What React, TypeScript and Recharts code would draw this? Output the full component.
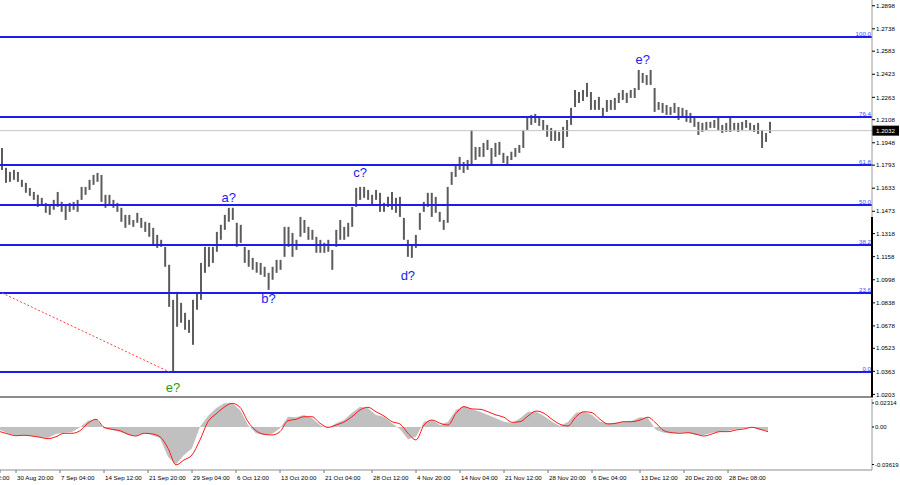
import React from 'react';
import {
  ComposedChart, Bar, Area, Line, XAxis, YAxis, ReferenceLine, ReferenceDot,
} from 'recharts';

// H4 price bars, sampled left to right (high / low)
const highs = [
  1.1912, 1.1774, 1.1746, 1.1760, 1.1746, 1.1691, 1.1670, 1.1635, 1.1607, 1.1587,
  1.1566, 1.1531, 1.1517, 1.1552, 1.1607, 1.1538, 1.1517, 1.1531, 1.1538, 1.1552,
  1.1642, 1.1642, 1.1691, 1.1725, 1.1739, 1.1725, 1.1587, 1.1587, 1.1552, 1.1531,
  1.1497, 1.1448, 1.1448, 1.1413, 1.1462, 1.1427, 1.1400, 1.1393, 1.1358, 1.1309,
  1.1275, 1.1226, 1.1102, 1.0859, 1.0914, 1.0838, 1.0769, 1.0720, 1.0859, 1.0908,
  1.1115, 1.1226, 1.1226, 1.1226, 1.1330, 1.1379, 1.1448, 1.1497, 1.1497, 1.1393,
  1.1379, 1.1226, 1.1205, 1.1150, 1.1122, 1.1115, 1.1088, 1.1046, 1.1088, 1.1136,
  1.1136, 1.1365, 1.1365, 1.1323, 1.1275, 1.1434, 1.1413, 1.1365, 1.1344, 1.1296,
  1.1275, 1.1254, 1.1275, 1.1205, 1.1344, 1.1413, 1.1365, 1.1393, 1.1503, 1.1635,
  1.1642, 1.1642, 1.1621, 1.1587, 1.1621, 1.1601, 1.1531, 1.1573, 1.1607, 1.1566,
  1.1573, 1.1427, 1.1275, 1.1240, 1.1309, 1.1462, 1.1538, 1.1601, 1.1601, 1.1573,
  1.1469, 1.1413, 1.1642, 1.1746, 1.1795, 1.1850, 1.1815, 1.1829, 1.2037, 1.1919,
  1.1919, 1.1947, 1.1968, 1.1912, 1.1947, 1.1954, 1.1878, 1.1857, 1.1885, 1.1912,
  1.1933, 1.2037, 1.2120, 1.2141, 1.2148, 1.2127, 1.2106, 1.2072, 1.2051, 1.2037,
  1.2023, 1.2058, 1.2106, 1.2190, 1.2314, 1.2300, 1.2314, 1.2363, 1.2300, 1.2245,
  1.2266, 1.2190, 1.2245, 1.2245, 1.2259, 1.2294, 1.2314, 1.2294, 1.2314, 1.2328,
  1.2453, 1.2432, 1.2418, 1.2453, 1.2328, 1.2231, 1.2224, 1.2210, 1.2196, 1.2224,
  1.2196, 1.2190, 1.2176, 1.2155, 1.2127, 1.2093, 1.2086, 1.2093, 1.2093, 1.2106,
  1.2120, 1.2072, 1.2086, 1.2120, 1.2086, 1.2086, 1.2093, 1.2106, 1.2086, 1.2072,
  1.2086, 1.2037, 1.2016, 1.2093,
];
const lows = [
  1.1760, 1.1670, 1.1677, 1.1691, 1.1677, 1.1642, 1.1601, 1.1580, 1.1552, 1.1503,
  1.1517, 1.1462, 1.1448, 1.1483, 1.1503, 1.1469, 1.1413, 1.1469, 1.1483, 1.1469,
  1.1552, 1.1587, 1.1621, 1.1656, 1.1677, 1.1538, 1.1497, 1.1517, 1.1497, 1.1469,
  1.1400, 1.1358, 1.1379, 1.1365, 1.1393, 1.1358, 1.1330, 1.1296, 1.1240, 1.1219,
  1.1226, 1.1088, 1.0810, 1.0360, 1.0672, 1.0700, 1.0651, 1.0630, 1.0547, 1.0790,
  1.0859, 1.1046, 1.1088, 1.1115, 1.1192, 1.1275, 1.1344, 1.1400, 1.1413, 1.1226,
  1.1254, 1.1115, 1.1088, 1.1067, 1.1046, 1.1032, 1.1018, 1.0928, 1.0998, 1.1046,
  1.1067, 1.1157, 1.1226, 1.1157, 1.1205, 1.1296, 1.1323, 1.1275, 1.1275, 1.1185,
  1.1185, 1.1185, 1.1192, 1.1067, 1.1226, 1.1275, 1.1275, 1.1296, 1.1365, 1.1503,
  1.1552, 1.1566, 1.1552, 1.1517, 1.1552, 1.1469, 1.1469, 1.1503, 1.1483, 1.1462,
  1.1434, 1.1275, 1.1157, 1.1150, 1.1219, 1.1344, 1.1469, 1.1503, 1.1434, 1.1462,
  1.1400, 1.1344, 1.1393, 1.1656, 1.1711, 1.1760, 1.1739, 1.1760, 1.1795, 1.1829,
  1.1850, 1.1850, 1.1898, 1.1795, 1.1850, 1.1864, 1.1808, 1.1788, 1.1829, 1.1850,
  1.1878, 1.1912, 1.2037, 1.2072, 1.2086, 1.2065, 1.2037, 1.1989, 1.1961, 1.1961,
  1.1961, 1.1912, 1.1989, 1.2072, 1.2196, 1.2224, 1.2238, 1.2266, 1.2176, 1.2176,
  1.2176, 1.2120, 1.2162, 1.2176, 1.2176, 1.2224, 1.2245, 1.2224, 1.2259, 1.2259,
  1.2314, 1.2363, 1.2349, 1.2349, 1.2162, 1.2176, 1.2155, 1.2141, 1.2141, 1.2155,
  1.2106, 1.2127, 1.2093, 1.2086, 1.2058, 1.2002, 1.2023, 1.2037, 1.2051, 1.2051,
  1.2037, 1.2016, 1.2023, 1.2023, 1.2037, 1.2023, 1.2037, 1.2051, 1.2037, 1.2023,
  1.2009, 1.1912, 1.1954, 1.2016,
];

// MACD panel, one value every second bar
const macdHist = [
  -0.0029, -0.0061, -0.0084, -0.0080, -0.0087, -0.0099, -0.0106, -0.0067, -0.0055, -0.0048,
  -0.0003, 0.0061, 0.0074, -0.0013, -0.0029, -0.0045, -0.0077, -0.0087, -0.0055, -0.0077,
  -0.0109, -0.0286, -0.0362, -0.0270, -0.0205, 0.0003, 0.0106, 0.0180, 0.0228, 0.0231,
  0.0164, 0.0019, -0.0061, -0.0077, -0.0067, -0.0013, 0.0099, 0.0094, 0.0116, 0.0084,
  0.0019, -0.0013, 0.0036, 0.0067, 0.0138, 0.0196, 0.0180, 0.0116, 0.0099, 0.0036,
  -0.0022, -0.0119, -0.0094, 0.0051, 0.0067, 0.0019, 0.0051, 0.0164, 0.0202, 0.0171,
  0.0147, 0.0116, 0.0084, 0.0051, 0.0036, 0.0084, 0.0147, 0.0147, 0.0106, 0.0051,
  0.0010, 0.0051, 0.0138, 0.0147, 0.0116, 0.0051, 0.0036, 0.0041, 0.0051, 0.0061,
  0.0094, 0.0084, -0.0029, -0.0055, -0.0061, -0.0055, -0.0055, -0.0077, -0.0077, -0.0055,
  -0.0045, -0.0036, -0.0022, -0.0013, -0.0003, -0.0029, -0.0036,
];
const macdSignal = [
  -0.0045, -0.0067, -0.0084, -0.0080, -0.0087, -0.0099, -0.0113, -0.0094, -0.0061, -0.0061,
  -0.0036, 0.0036, 0.0074, -0.0003, -0.0022, -0.0036, -0.0070, -0.0087, -0.0061, -0.0067,
  -0.0094, -0.0205, -0.0366, -0.0318, -0.0270, -0.0125, 0.0051, 0.0125, 0.0190, 0.0228,
  0.0190, 0.0051, -0.0036, -0.0070, -0.0077, -0.0045, 0.0061, 0.0074, 0.0099, 0.0099,
  0.0036, -0.0003, 0.0019, 0.0048, 0.0099, 0.0164, 0.0190, 0.0147, 0.0106, 0.0051,
  0.0029, -0.0061, -0.0125, 0.0019, 0.0067, 0.0036, 0.0019, 0.0132, 0.0196, 0.0174,
  0.0171, 0.0147, 0.0116, 0.0094, 0.0045, 0.0051, 0.0106, 0.0154, 0.0132, 0.0074,
  0.0026, 0.0010, 0.0099, 0.0147, 0.0138, 0.0074, 0.0029, 0.0036, 0.0051, 0.0051,
  0.0067, 0.0094, 0.0036, -0.0036, -0.0055, -0.0061, -0.0055, -0.0070, -0.0087, -0.0067,
  -0.0045, -0.0045, -0.0029, -0.0019, -0.0003, -0.0022, -0.0045,
];

const fibNames = ['0.0', '23.6', '38.2', '50.0', '61.8', '76.4', '100.0'];
const fibPrices = [1.0358, 1.0906, 1.1239, 1.1516, 1.1794, 1.2127, 1.2681];

const waveNames = ['e?', 'a?', 'b?', 'c?', 'd?', 'e?'];
const waveBars = [43, 57, 67, 90, 102, 161];
const wavePrices = [1.0249, 1.1566, 1.0866, 1.1746, 1.1025, 1.2529];

const trendFrom = { bar: 0, price: 1.0906 };
const trendTo = { bar: 42, price: 1.0360 };

const priceTicks = [
  1.2898, 1.2738, 1.2583, 1.2423, 1.2263, 1.2108, 1.1948, 1.1793, 1.1633,
  1.1473, 1.1318, 1.1158, 1.0998, 1.0838, 1.0678, 1.0523, 1.0363, 1.0203,
];
const lastPrice = 1.2032;
const macdTicks = [0.02314, 0, -0.03619];

const timeLabels = [
  '23 Aug 12:00', '30 Aug 20:00', '7 Sep 04:00', '14 Sep 12:00', '21 Sep 20:00',
  '29 Sep 04:00', '6 Oct 12:00', '13 Oct 20:00', '21 Oct 04:00', '28 Oct 12:00',
  '4 Nov 20:00', '14 Nov 04:00', '21 Nov 12:00', '28 Nov 20:00', '6 Dec 04:00',
  '13 Dec 12:00', '20 Dec 20:00', '28 Dec 08:00',
];
const timeTickBars = [0, 4, 15, 26, 37, 48, 59, 70, 81, 93, 104, 115, 126, 137, 148, 160, 171, 182];

const FONT = '"Liberation Sans", Arial, sans-serif';
const BLUE = '#1c1cf0';
const SMALL = 6.2;

const priceRows = highs.map((h, i) => ({ i, range: [lows[i], h] }));
const macdRows = highs.map((_, i) => ({
  i,
  hist: i % 2 === 0 ? macdHist[i / 2] ?? null : null,
  sig: i % 2 === 0 ? macdSignal[i / 2] ?? null : null,
}));

const LastPriceLabel = (props: any) => {
  const { viewBox } = props;
  const x = viewBox.x + viewBox.width;
  return (
    <g>
      <rect x={x} y={viewBox.y - 5} width={27} height={10} fill="#000" />
      <text x={x + 4} y={viewBox.y + 2.5} fontSize={SMALL} fill="#fff" fontFamily={FONT}>
        {lastPrice.toFixed(4)}
      </text>
    </g>
  );
};

const TimeTick = (props: any) => {
  const { x, y, payload } = props;
  const k = timeTickBars.indexOf(payload.value);
  if (k < 0) return null;
  const shift = k === 0 ? -28 : 0;
  return (
    <g>
      <line x1={x} x2={x} y1={y} y2={y + 3} stroke="#777" strokeWidth={1} />
      <text x={x + 1 + shift} y={y + 9.5} fontSize={SMALL} fill="#000" fontFamily={FONT}>
        {timeLabels[k]}
      </text>
    </g>
  );
};

const App: React.FC = () => {
  return (
    <div style={{ position: 'absolute', left: 0, top: 0, width: 900, height: 485, background: '#fff', fontFamily: FONT, overflow: 'hidden' }}>
      <ComposedChart width={900} height={397} data={priceRows} margin={{ top: 0, right: 0, bottom: 0, left: 0 }}>
        <XAxis dataKey="i" hide padding={{ left: 0, right: 100 }} />
        <YAxis
          orientation="right"
          width={28}
          domain={[1.0185, 1.2938]}
          ticks={priceTicks}
          interval={0}
          tickFormatter={(v: number) => v.toFixed(4)}
          tick={{ fontSize: SMALL, fill: '#000' }}
          tickSize={3}
          tickMargin={1}
          tickLine={{ stroke: '#000' }}
          axisLine={{ stroke: '#9a9a9a' }}
        />
        <ReferenceLine y={lastPrice} stroke="#c4c4c4" strokeWidth={1} label={<LastPriceLabel />} />
        {fibPrices.map((p, k) => (
          <ReferenceLine
            key={fibNames[k]}
            y={p}
            stroke={BLUE}
            strokeWidth={2}
            label={{ value: fibNames[k], position: 'insideBottomRight', offset: 1, fill: '#4a4aff', fontSize: SMALL }}
          />
        ))}
        <ReferenceLine
          segment={[{ x: trendFrom.bar, y: trendFrom.price }, { x: trendTo.bar, y: trendTo.price }]}
          stroke="#ff4040"
          strokeDasharray="2 2"
          strokeWidth={1}
        />
        <Bar dataKey="range" fill="#5c5c5c" barSize={2} isAnimationActive={false} />
        {waveNames.map((w, k) => (
          <ReferenceDot
            key={k}
            x={waveBars[k]}
            y={wavePrices[k]}
            r={0}
            fill="none"
            stroke="none"
            label={{ value: w, position: 'center', fill: k === 0 ? '#1f9a1f' : BLUE, fontSize: 13 }}
          />
        ))}
      </ComposedChart>
      <div style={{ position: 'absolute', left: 0, top: 396, width: 873, height: 2, background: '#8c8c8c' }} />
      <div style={{ position: 'absolute', left: 871, top: 217, width: 2, height: 180, background: '#000' }} />
      <div style={{ position: 'absolute', left: 0, top: 398 }}>
        <ComposedChart width={900} height={87} data={macdRows} margin={{ top: 1, right: 0, bottom: 0, left: 0 }}>
          <XAxis
            dataKey="i"
            padding={{ left: 0, right: 100 }}
            ticks={timeTickBars}
            interval={0}
            tick={<TimeTick />}
            tickLine={false}
            tickSize={0}
            tickMargin={0}
            axisLine={{ stroke: '#8c8c8c' }}
            height={15}
          />
          <YAxis
            orientation="right"
            width={28}
            domain={[-0.0415, 0.027]}
            ticks={macdTicks}
            interval={0}
            tickFormatter={(v: number) => (v === 0 ? '0.00' : v.toFixed(5))}
            tick={{ fontSize: 6, fill: '#000' }}
            tickSize={2}
            tickMargin={1}
            tickLine={{ stroke: '#000' }}
            axisLine={{ stroke: '#9a9a9a' }}
          />
          <Area
            dataKey="hist"
            type="linear"
            baseValue={0}
            fill="#c0c0c0"
            fillOpacity={1}
            stroke="none"
            connectNulls
            isAnimationActive={false}
          />
          <Line
            dataKey="sig"
            type="monotone"
            stroke="#ff1a1a"
            strokeWidth={1}
            dot={false}
            connectNulls
            isAnimationActive={false}
          />
        </ComposedChart>
      </div>
    </div>
  );
};

export default App;
